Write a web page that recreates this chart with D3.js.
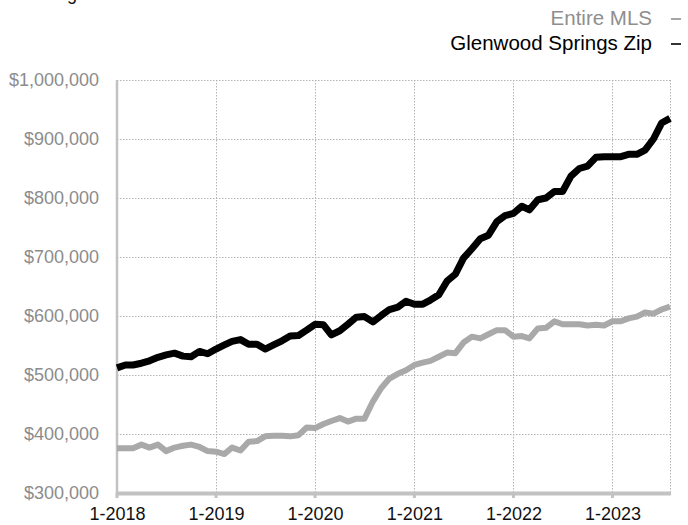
<!DOCTYPE html>
<html>
<head>
<meta charset="utf-8">
<script src="https://cdn.jsdelivr.net/npm/d3@7"></script>
<style>
  html, body { margin: 0; padding: 0; background: #fff; }
  svg { display: block; font-family: "Liberation Sans", Arial, Helvetica, sans-serif; }
</style>
</head>
<body>
<svg id="chart" width="688" height="525"></svg>
<script>
// ---- Data (monthly, 1-2018 through 8-2023) ----
const startYear = 2018;
const startMonth = 0; // January
const glenwoodSprings = [
  512000, 517000, 517000, 520000, 524000, 530000, 534000, 537000, 532000, 531000, 540000, 536000,
  544000, 551000, 557000, 560000, 552000, 552000, 544000, 551000, 558000, 566000, 567000, 576000,
  586000, 585000, 568000, 575000, 586000, 598000, 599000, 590000, 601000, 611000, 615000, 625000,
  620000, 620000, 627000, 636000, 659000, 671000, 698000, 714000, 731000, 737000, 760000, 770000,
  774000, 786000, 780000, 797000, 800000, 811000, 811000, 837000, 850000, 854000, 869000, 870000,
  870000, 870000, 874000, 874000, 881000, 900000, 927000, 935000
];
const entireMLS = [
  376000, 376000, 376000, 382000, 377000, 382000, 371000, 377000, 380000, 382000, 378000, 371000,
  370000, 366000, 377000, 372000, 387000, 388000, 396000, 397000, 397000, 396000, 398000, 411000,
  410000, 417000, 422000, 427000, 421000, 426000, 426000, 455000, 478000, 494000, 502000, 508000,
  517000, 521000, 524000, 531000, 538000, 537000, 555000, 565000, 562000, 569000, 576000, 576000,
  565000, 566000, 562000, 579000, 580000, 591000, 586000, 586000, 586000, 584000, 585000, 584000,
  591000, 591000, 596000, 599000, 606000, 604000, 611000, 616000
];
const yTickValues = [300000, 400000, 500000, 600000, 700000, 800000, 900000, 1000000];
const xTickYears = [2018, 2019, 2020, 2021, 2022, 2023];
const seriesNames = ["Entire MLS", "Glenwood Springs Zip"];

// ---- Layout ----
const svg = d3.select("#chart");
const mLeft = 117, mRight = 670, mTop = 80, mBottom = 493;
const dates = glenwoodSprings.map((_, i) => new Date(startYear, startMonth + i, 1));

const x = d3.scaleTime()
  .domain([dates[0], dates[dates.length - 1]])
  .range([mLeft, mRight]);
const y = d3.scaleLinear()
  .domain([300000, 1000000])
  .range([mBottom, mTop]);

const gridColor = "#b4b4b4";
const axisColor = "#c2c2c2";

// Partially visible subtitle at the very top (cut off as in the original)
svg.append("text")
  .attr("x", 22).attr("y", 0)
  .attr("font-size", 18)
  .attr("fill", "#8a8a8a")
  .call(t => {
    t.append("tspan").attr("fill", "#111").text("Rolling");
    t.append("tspan").text(" 12-Month Calculation");
  });

// Horizontal grid
svg.append("g")
  .selectAll("line")
  .data(yTickValues.filter(v => v > 300000))
  .join("line")
  .attr("x1", mLeft).attr("x2", mRight)
  .attr("y1", d => y(d) + 0.5).attr("y2", d => y(d) + 0.5)
  .attr("stroke", gridColor)
  .attr("stroke-width", 1)
  .attr("stroke-dasharray", "1.5,1.5");

// Vertical grid (year starts + right edge)
const xGridDates = xTickYears.filter(yr => yr > startYear).map(yr => new Date(yr, 0, 1))
  .concat([dates[dates.length - 1]]);
svg.append("g")
  .selectAll("line")
  .data(xGridDates)
  .join("line")
  .attr("x1", d => Math.round(x(d)) + 0.5).attr("x2", d => Math.round(x(d)) + 0.5)
  .attr("y1", mTop).attr("y2", mBottom)
  .attr("stroke", gridColor)
  .attr("stroke-width", 1)
  .attr("stroke-dasharray", "1.5,1.5");

// Y axis labels
const yAxis = d3.axisLeft(y)
  .tickValues(yTickValues)
  .tickSize(0)
  .tickPadding(18)
  .tickFormat(d => "$" + d3.format(",")(d));
const gy = svg.append("g").attr("transform", `translate(${mLeft},0)`).call(yAxis);
gy.select(".domain").remove();
gy.selectAll("text")
  .attr("font-size", 18)
  .attr("font-family", "'Liberation Sans', Arial, Helvetica, sans-serif")
  .attr("fill", "#8c8c8c");

// Left axis line
svg.append("line")
  .attr("x1", mLeft).attr("x2", mLeft)
  .attr("y1", mTop).attr("y2", mBottom + 2)
  .attr("stroke", axisColor).attr("stroke-width", 2.5);

// Bottom axis
const xAxis = d3.axisBottom(x)
  .tickValues(xTickYears.map(yr => new Date(yr, 0, 1)))
  .tickSize(0)
  .tickPadding(14)
  .tickFormat(d => "1-" + d.getFullYear());
const gx = svg.append("g").attr("transform", `translate(0,${mBottom})`).call(xAxis);
gx.select(".domain").remove();
gx.selectAll("text")
  .attr("font-size", 18)
  .attr("font-family", "'Liberation Sans', Arial, Helvetica, sans-serif")
  .attr("fill", "#111");
svg.append("line")
  .attr("x1", mLeft - 1).attr("x2", mRight + 1)
  .attr("y1", mBottom + 0.5).attr("y2", mBottom + 0.5)
  .attr("stroke", axisColor).attr("stroke-width", 4);
svg.append("g")
  .selectAll("rect")
  .data(xTickYears.map(yr => new Date(yr, 0, 1)))
  .join("rect")
  .attr("x", d => x(d) - 1.5).attr("y", mBottom)
  .attr("width", 3).attr("height", 5)
  .attr("fill", axisColor);

// Lines
const line = d3.line()
  .x((d, i) => x(dates[i]))
  .y(d => y(d));

svg.append("path")
  .datum(entireMLS)
  .attr("d", line)
  .attr("fill", "none")
  .attr("stroke", "#a9a9a9")
  .attr("stroke-width", 6)
  .attr("stroke-linejoin", "round");

svg.append("path")
  .datum(glenwoodSprings)
  .attr("d", line)
  .attr("fill", "none")
  .attr("stroke", "#000")
  .attr("stroke-width", 7)
  .attr("stroke-linejoin", "round");

// Legend
const legend = [
  { name: seriesNames[0], color: "#8e8e8e", y: 25 },
  { name: seriesNames[1], color: "#000", y: 50 }
];
const lg = svg.append("g");
legend.forEach(l => {
  lg.append("text")
    .attr("x", 652).attr("y", l.y)
    .attr("text-anchor", "end")
    .attr("font-size", 20.5)
    .attr("fill", l.color)
    .text(l.name);
  lg.append("line")
    .attr("x1", 671).attr("x2", 681)
    .attr("y1", l.y - 6).attr("y2", l.y - 6)
    .attr("stroke", l.color).attr("stroke-width", 1.6);
});
</script>
</body>
</html>
